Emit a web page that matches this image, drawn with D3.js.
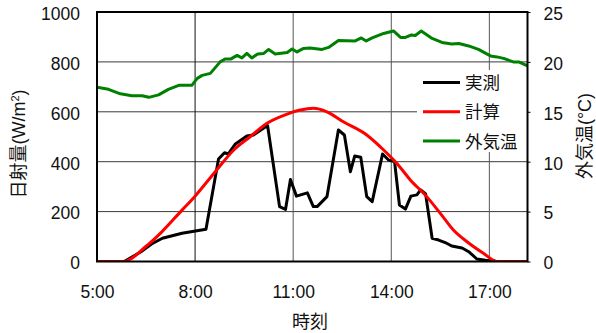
<!DOCTYPE html>
<html>
<head>
<meta charset="utf-8">
<script src="https://cdn.jsdelivr.net/npm/d3@7"></script>
<style>
  body { margin: 0; background: #fff; }
  svg text { font-family: "Liberation Sans", Arial, "Noto Sans CJK JP", sans-serif; fill: #111; }
</style>
</head>
<body>
<div id="chart"></div>
<script>
// measured solar radiation (W/m2)
let measuredTimes = ['5:00', '5:50', '6:20', '6:40', '7:00', '7:36', '8:20', '8:43', '8:54', '9:01',
  '9:14', '9:35', '9:47', '10:13', '10:35', '10:46', '10:55', '11:06', '11:26', '11:37',
  '11:44', '12:02', '12:23', '12:34', '12:45', '12:53', '13:04', '13:15', '13:25', '13:44',
  '13:55', '14:06', '14:15', '14:26', '14:36', '14:47', '14:54', '15:03', '15:15', '15:27',
  '15:39', '15:51', '16:10', '16:23', '16:37', '16:53', '17:11'];
let measuredValues = [0, 0, 38, 70, 93, 113, 129, 411, 436, 431,
  471, 503, 507, 545, 220, 209, 329, 262, 275, 220,
  220, 260, 527, 507, 360, 423, 418, 260, 240, 431,
  407, 401, 226, 210, 262, 267, 287, 271, 93, 86,
  76, 62, 54, 38, 10, 5, 2];

// calculated solar radiation (W/m2)
let calcTimes = ['5:00', '5:49', '6:29', '6:59', '7:36', '8:00', '8:37', '9:11', '9:41', '10:12',
  '10:49', '11:13', '11:37', '12:02', '12:32', '13:15', '13:46', '14:10', '14:35', '15:05',
  '15:30', '15:54', '16:19', '16:49', '17:14', '18:10'];
let calcValues = [0, 0, 59, 119, 206, 262, 360, 447, 500, 554,
  591, 607, 614, 600, 560, 507, 447, 394, 327, 260,
  193, 126, 79, 33, 0, 0];

// outdoor temperature (degC)
let tempTimes = ['5:00', '5:21', '5:43', '6:04', '6:23', '6:35', '6:53', '7:11', '7:30', '7:54',
  '8:04', '8:13', '8:28', '8:46', '8:55', '9:06', '9:17', '9:26', '9:35', '9:44',
  '9:55', '10:06', '10:15', '10:27', '10:49', '10:58', '11:07', '11:19', '11:31', '11:53',
  '12:05', '12:23', '12:54', '13:05', '13:14', '13:25', '13:46', '14:04', '14:17', '14:26',
  '14:37', '14:44', '14:55', '15:15', '15:33', '15:51', '16:04', '16:22', '16:40', '17:02',
  '17:14', '17:26', '17:44', '17:54', '18:06', '18:10'];
let tempValues = [17.45, 17.25, 16.8, 16.6, 16.6, 16.45, 16.7, 17.25, 17.65, 17.65,
  18.35, 18.65, 18.85, 20.0, 20.3, 20.3, 20.65, 20.4, 20.85, 20.4,
  20.8, 20.85, 21.25, 20.8, 20.95, 21.3, 21.0, 21.35, 21.4, 21.25,
  21.45, 22.15, 22.1, 22.4, 22.1, 22.4, 22.85, 23.1, 22.45, 22.45,
  22.7, 22.65, 23.1, 22.35, 21.95, 21.8, 21.85, 21.6, 21.25, 20.6,
  20.5, 20.35, 20.0, 20.0, 19.7, 19.6];

let radTicks = [0, 200, 400, 600, 800, 1000];
let tempTicks = [0, 5, 10, 15, 20, 25];
let timeTicks = ['5:00', '8:00', '11:00', '14:00', '17:00'];
let timeDomain = ['5:00', '18:10'];

let legendNames = ['実測', '計算', '外気温'];
let seriesColors = ['#000000', '#ff0000', '#008000'];

let W = 596, H = 333;
let margin = { top: 12, right: 68.5, bottom: 71.5, left: 97 };
let fontSize = 17.5;

let parseTime = d3.timeParse('%H:%M');
let fmtTime = d3.timeFormat('%-H:%M');

let x = d3.scaleTime()
  .domain(timeDomain.map(parseTime))
  .range([margin.left, W - margin.right]);
let y = d3.scaleLinear().domain([0, 1000]).range([H - margin.bottom, margin.top]);
let yT = d3.scaleLinear().domain([0, 25]).range([H - margin.bottom, margin.top]);

let svg = d3.select('#chart').append('svg')
  .attr('width', W).attr('height', H)
  .attr('viewBox', [0, 0, W, H]);

svg.append('defs').append('clipPath').attr('id', 'plotClip')
  .append('rect')
  .attr('x', margin.left).attr('y', margin.top)
  .attr('width', W - margin.left - margin.right)
  .attr('height', H - margin.top - margin.bottom);

// grid lines
let grid = svg.append('g').attr('class', 'grid');
grid.selectAll('.hgrid')
  .data(radTicks.slice(1, -1))
  .join('line')
  .attr('x1', margin.left).attr('x2', W - margin.right)
  .attr('y1', (d) => y(d)).attr('y2', (d) => y(d))
  .attr('stroke', '#3a3a3a').attr('stroke-width', 1);
grid.selectAll('.vgrid')
  .data(timeTicks.slice(1).map(parseTime))
  .join('line')
  .attr('x1', (d) => x(d)).attr('x2', (d) => x(d))
  .attr('y1', margin.top).attr('y2', H - margin.bottom)
  .attr('stroke', (d, i) => (i == 0 ? '#111' : '#555')).attr('stroke-width', 1);

// series lines
let makeLine = (times, values, scale, curve) =>
  d3.line()
    .x((d, i) => x(parseTime(times[i])))
    .y((d) => scale(d))
    .curve(curve)(values);

let plot = svg.append('g').attr('clip-path', 'url(#plotClip)');
plot.append('path')
  .attr('d', makeLine(tempTimes, tempValues, yT, d3.curveLinear))
  .attr('fill', 'none').attr('stroke', seriesColors[2]).attr('stroke-width', 3)
  .attr('stroke-linejoin', 'round');
plot.append('path')
  .attr('d', makeLine(measuredTimes, measuredValues, y, d3.curveLinear))
  .attr('fill', 'none').attr('stroke', seriesColors[0]).attr('stroke-width', 3)
  .attr('stroke-linejoin', 'round');
plot.append('path')
  .attr('d', makeLine(calcTimes, calcValues, y, d3.curveMonotoneX))
  .attr('fill', 'none').attr('stroke', seriesColors[1]).attr('stroke-width', 3)
  .attr('stroke-linejoin', 'round');

// legend box
let legend = svg.append('g').attr('class', 'legend');
legend.append('rect')
  .attr('x', 417).attr('y', 70)
  .attr('width', W - margin.right - 417).attr('height', 82)
  .attr('fill', '#fff');
legendNames.forEach((name, i) => {
  let ly = 82.5 + i * 29.3;
  legend.append('line')
    .attr('x1', 423).attr('x2', 460)
    .attr('y1', ly).attr('y2', ly)
    .attr('stroke', seriesColors[i]).attr('stroke-width', 3);
  legend.append('text')
    .attr('x', 465).attr('y', ly + 6.5)
    .style('font-size', fontSize + 'px')
    .text(name);
});

// frame
svg.append('rect')
  .attr('x', margin.left).attr('y', margin.top)
  .attr('width', W - margin.left - margin.right)
  .attr('height', H - margin.top - margin.bottom)
  .attr('fill', 'none').attr('stroke', '#000').attr('stroke-width', 2);

// axes
let yAxis = svg.append('g')
  .attr('transform', `translate(${margin.left},0)`)
  .call(d3.axisLeft(y).tickValues(radTicks).tickFormat(d3.format('d'))
    .tickSize(0).tickPadding(17));
let yAxisR = svg.append('g')
  .attr('transform', `translate(${W - margin.right},0)`)
  .call(d3.axisRight(yT).tickValues(tempTicks).tickFormat(d3.format('d'))
    .tickSize(3).tickPadding(13));
let xAxis = svg.append('g')
  .attr('transform', `translate(0,${H - margin.bottom})`)
  .call(d3.axisBottom(x).tickValues(timeTicks.map(parseTime)).tickFormat(fmtTime)
    .tickSize(0).tickPadding(24.5));

[yAxis, yAxisR, xAxis].forEach((g) => {
  g.select('.domain').remove();
  g.selectAll('text').style('font-size', fontSize + 'px').attr('fill', '#111')
    .style('font-family', '"Liberation Sans", Arial, sans-serif');
  g.selectAll('line').attr('stroke', '#000');
});
yAxis.selectAll('text').attr('dy', '0.42em');
yAxisR.selectAll('text').attr('dy', '0.42em');

// axis titles
let leftTitle = svg.append('text')
  .attr('transform', 'translate(25,144) rotate(-90)')
  .attr('text-anchor', 'middle')
  .style('font-size', '18px');
leftTitle.append('tspan').text('日射量(W/m');
leftTitle.append('tspan').attr('baseline-shift', 'super').style('font-size', '11px').text('2');
leftTitle.append('tspan').text(')');

svg.append('text')
  .attr('transform', 'translate(591,136) rotate(-90)')
  .attr('text-anchor', 'middle')
  .style('font-size', '18px')
  .text('外気温(°C)');

svg.append('text')
  .attr('x', 310).attr('y', 328)
  .attr('text-anchor', 'middle')
  .style('font-size', '18px')
  .text('時刻');
</script>
</body>
</html>
